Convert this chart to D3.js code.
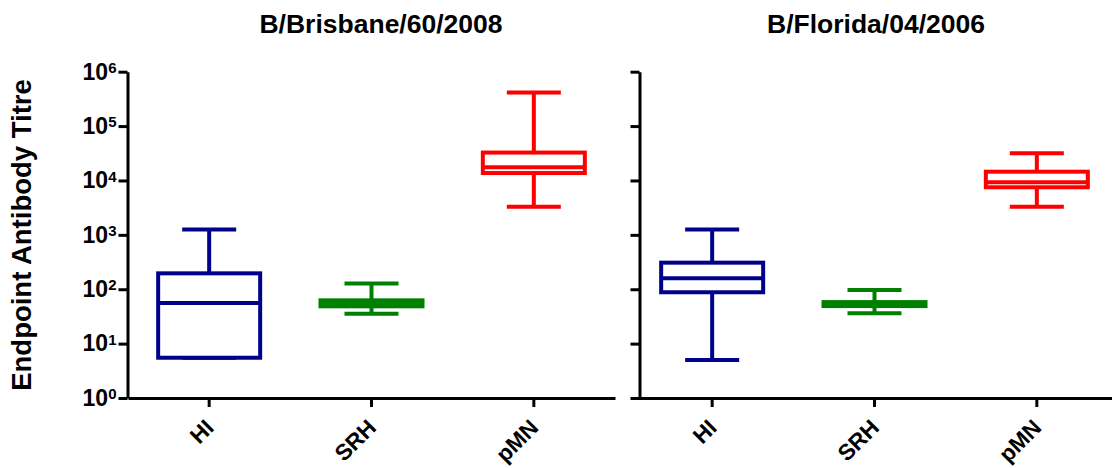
<!DOCTYPE html>
<html>
<head>
<meta charset="utf-8">
<script src="https://cdn.jsdelivr.net/npm/d3@7"></script>
<style>
  html, body { margin: 0; padding: 0; background: #fff; }
  svg { display: block; }
  text { font-family: "Liberation Sans", Arial, Helvetica, sans-serif; font-weight: bold; fill: #000; }
</style>
</head>
<body>
<svg id="chart" width="1112" height="468"></svg>
<script>
// ---- data ----
const categories = ["HI", "SRH", "pMN"];
const panelTitles = ["B/Brisbane/60/2008", "B/Florida/04/2006"];
const colors = ["#00008b", "#008000", "#ff0000"];
const yTickValues = [1, 10, 100, 1000, 10000, 100000, 1000000];
const yTickExponents = ["0", "1", "2", "3", "4", "5", "6"];
const yAxisTitle = "Endpoint Antibody Titre";

// B/Brisbane/60/2008 (HI, SRH, pMN)
const brisbaneMin    = [5.5, 35.5, 3300];
const brisbaneQ1     = [5.5, 48.5, 13700];
const brisbaneMedian = [56, 56, 17500];
const brisbaneQ3     = [196, 62.5, 32600];
const brisbaneMax    = [1260, 128, 416000];

// B/Florida/04/2006 (HI, SRH, pMN)
const floridaMin    = [5, 36, 3300];
const floridaQ1     = [88, 49, 7500];
const floridaMedian = [159, 54, 9230];
const floridaQ3     = [308, 58, 14500];
const floridaMax    = [1260, 97, 31600];

// ---- build ----
const panels = [
  { title: panelTitles[0], min: brisbaneMin, q1: brisbaneQ1, med: brisbaneMedian, q3: brisbaneQ3, max: brisbaneMax,
    axisX: 127.5, range: [128, 615], titleX: 381 },
  { title: panelTitles[1], min: floridaMin, q1: floridaQ1, med: floridaMedian, q3: floridaQ3, max: floridaMax,
    axisX: 639.5, range: [631, 1118], titleX: 876 }
];

const svg = d3.select("#chart");
svg.append("rect").attr("width", 1112).attr("height", 468).attr("fill", "#fff");

const y = d3.scaleLog().domain([1, 1e6]).range([398, 71.7]);

const boxW = 102, capW = 54, lw = 4;

panels.forEach((p, pi) => {
  const x = d3.scaleBand().domain(categories).range(p.range).padding(0);

  // title
  svg.append("text")
    .attr("x", p.titleX).attr("y", 33)
    .attr("text-anchor", "middle")
    .style("font-size", "26.5px")
    .text(p.title);

  // y axis
  const yAxis = d3.axisLeft(y).tickValues(yTickValues).tickSize(9).tickSizeOuter(0).tickPadding(2);
  const gy = svg.append("g").attr("transform", `translate(${p.axisX},0)`).call(yAxis);
  gy.select(".domain").attr("stroke", "#000").attr("stroke-width", 3);
  gy.selectAll(".tick line").attr("stroke", "#000").attr("stroke-width", 3);
  if (pi === 0) {
    gy.selectAll(".tick text").each(function(d, i) {
      const t = d3.select(this);
      t.text(null).style("font-size", "23px").attr("fill", "#000");
      t.append("tspan").text("10");
      t.append("tspan").attr("dy", "-0.45em").style("font-size", "15px").text(yTickExponents[i]);
    });
  } else {
    gy.selectAll(".tick text").remove();
  }

  // x axis
  const xAxis = d3.axisBottom(x).tickSize(9).tickSizeOuter(0);
  const gx = svg.append("g").attr("transform", "translate(0,398)").call(xAxis);
  gx.select(".domain").attr("stroke", "#000").attr("stroke-width", 3);
  gx.selectAll(".tick line").attr("stroke", "#000").attr("stroke-width", 3);
  gx.selectAll(".tick text")
    .attr("x", 0).attr("y", 0).attr("dy", 0)
    .attr("transform", "translate(6,31) rotate(-45)")
    .attr("text-anchor", "end")
    .style("font-size", "22.5px")
    .attr("fill", "#000");

  // boxes
  const g = svg.append("g");
  categories.forEach((c, i) => {
    const cx = x(c) + x.bandwidth() / 2;
    const col = colors[i];
    const gb = g.append("g").attr("stroke", col).attr("stroke-width", lw).attr("fill", "none");
    // whiskers
    gb.append("line").attr("x1", cx).attr("x2", cx).attr("y1", y(p.max[i])).attr("y2", y(p.q3[i]));
    gb.append("line").attr("x1", cx).attr("x2", cx).attr("y1", y(p.q1[i])).attr("y2", y(p.min[i]));
    gb.append("line").attr("x1", cx - capW / 2).attr("x2", cx + capW / 2).attr("y1", y(p.max[i])).attr("y2", y(p.max[i]));
    gb.append("line").attr("x1", cx - capW / 2).attr("x2", cx + capW / 2).attr("y1", y(p.min[i])).attr("y2", y(p.min[i]));
    // box
    gb.append("rect")
      .attr("x", cx - boxW / 2).attr("width", boxW)
      .attr("y", y(p.q3[i])).attr("height", y(p.q1[i]) - y(p.q3[i]))
      .attr("fill", "#fff");
    // median
    gb.append("line").attr("x1", cx - boxW / 2).attr("x2", cx + boxW / 2).attr("y1", y(p.med[i])).attr("y2", y(p.med[i]));
  });
});

// y axis title
svg.append("text")
  .attr("transform", "translate(31,235) rotate(-90)")
  .attr("text-anchor", "middle")
  .style("font-size", "27.5px")
  .text(yAxisTitle);
</script>
</body>
</html>
